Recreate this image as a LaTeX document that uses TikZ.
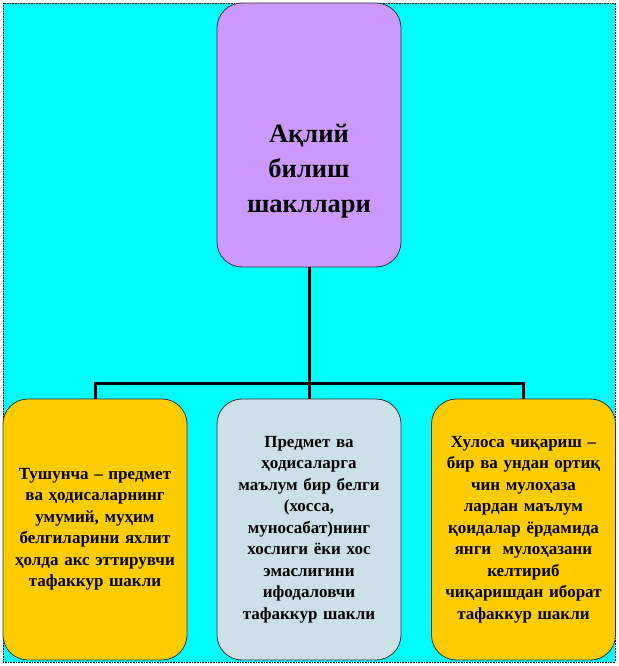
\documentclass[tikz,border=0pt]{standalone}
\usepackage{fontspec}
\setmainfont{Liberation Serif}
\definecolor{fondo}{RGB}{0,255,255}
\definecolor{lilla}{RGB}{204,153,255}
\definecolor{giallo}{RGB}{255,204,0}
\definecolor{grigio}{RGB}{204,224,232}
\begin{document}
\begin{tikzpicture}[x=1pt,y=-1pt,
			scatola/.style={draw=black!80, line width=0.8pt, rounded corners=25pt,
				minimum width=184pt, align=center, inner sep=2pt,
				font=\bfseries\fontsize{17}{21.5}\selectfont},
			radice/.style={scatola, fill=lilla, minimum height=264pt,
				font=\bfseries\fontsize{26.5}{35}\selectfont},
			foglia/.style={scatola, minimum height=261pt, text width=180pt},
			link/.style={line width=3pt, black},
			]
			\def\yb{529.5}
			
			%% ── sfondo ──────────────────────────────────────────────
			\useasboundingbox (0,0) rectangle (618,666);
			\fill[fondo] (3,3) rectangle (615,662);
			\draw[black, densely dotted, line width=0.6pt] (3,3) rectangle (615,662);
			
			%% ── scatole ─────────────────────────────────────────────
			\node[radice] (top) at (309,135) {\mbox{}\\[55pt]Ақлий\\билиш\\шакллари};
			\node[foglia, fill=giallo] (tush) at (95,\yb)
				{Тушунча – предмет\\ва ҳодисаларнинг\\умумий, муҳим\\белгиларини яхлит\\ҳолда акс эттирувчи\\тафаккур шакли};
			\node[foglia, fill=grigio] (hukm) at (309,\yb)
				{Предмет ва\\ҳодисаларга\\маълум бир белги\\(хосса,\\муносабат)нинг\\хослиги ёки хос\\эмаслигини\\ифодаловчи\\тафаккур шакли};
			\node[foglia, fill=giallo] (xulosa) at (523.5,\yb)
				{Хулоса чиқариш –\\бир ва ундан ортиқ\\чин мулоҳаза\\лардан маълум\\қоидалар ёрдамида\\янги \ мулоҳазани\\келтириб\\чиқаришдан иборат\\тафаккур шакли};
			
			%% ── collegamenti ────────────────────────────────────────
			\coordinate (bus) at (309,383);
			\draw[link] (top.south) -- (bus);
			\draw[link] (tush.north) |- (bus) -| (xulosa.north);
			\draw[link] (bus) -- (hukm.north);
			
	\end{tikzpicture}
\end{document}
